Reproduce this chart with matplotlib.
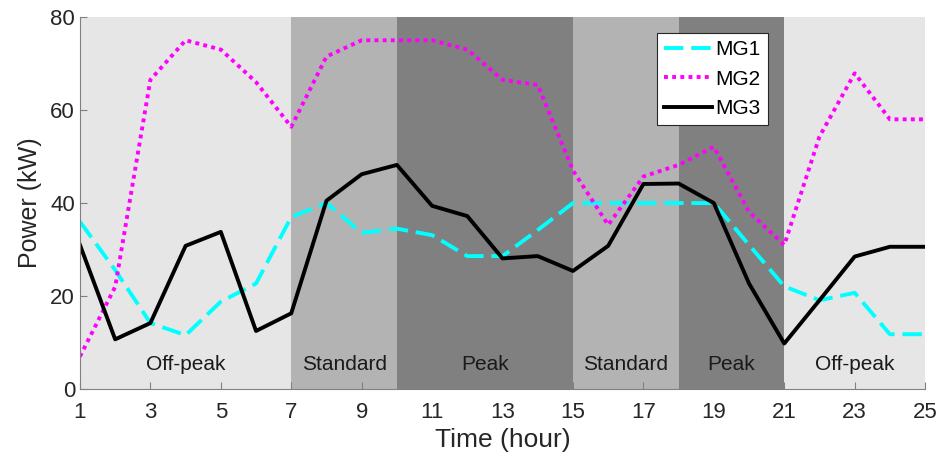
import matplotlib
matplotlib.use("Agg")
import matplotlib.pyplot as plt

plt.rcParams['font.family'] = ['Liberation Sans', 'DejaVu Sans']

hours = list(range(1, 26))
mg1 = [36, 25.6, 14.2, 11.6, 18.8, 22.7, 37, 40, 33.6, 34.5, 33.1, 28.6, 28.6,
       34.2, 40, 40, 40, 40, 40, 31, 22.1, 19.1, 20.7, 11.8, 11.8]
mg2 = [7, 22, 66.5, 75, 73, 66, 56.4, 71.5, 75, 75, 75, 73, 66.5,
       65.4, 47, 35.3, 45.7, 48.2, 52.1, 38.1, 31, 54.3, 67.9, 58, 58]
mg3 = [31, 10.7, 14.2, 30.8, 33.8, 12.5, 16.3, 40.5, 46.2, 48.2, 39.4, 37.2, 28.1,
       28.6, 25.4, 30.8, 44.1, 44.2, 40, 22.7, 9.8, 19.1, 28.5, 30.6, 30.6]

# tariff periods: (start, end, label, label x)
periods = [(1, 7, "Off-peak", 4), (7, 10, "Standard", 8.5), (10, 15, "Peak", 12.5),
           (15, 18, "Standard", 16.5), (18, 21, "Peak", 19.5), (21, 25, "Off-peak", 23)]
shade = {"Off-peak": "#e6e6e6", "Standard": "#b3b3b3", "Peak": "#808080"}

fig = plt.figure(figsize=(9.44, 4.66), dpi=100)
ax = fig.add_axes([0.0847, 0.165, 0.8953, 0.7985])

for start, end, name, xc in periods:
    ax.axvspan(start, end, color=shade[name], lw=0, zorder=0)
    ax.text(xc, 5.2, name, ha="center", va="center", fontsize=15, color="#1a1a1a")

ax.plot(hours, mg1, color="#00ffff", lw=2.8, ls=(0, (5, 2)), label="MG1")
ax.plot(hours, mg2, color="#ff00ff", lw=2.8, ls=(0, (1, 1.1)), label="MG2")
ax.plot(hours, mg3, color="black", lw=2.8, label="MG3")

ax.set_xlim(1, 25)
ax.set_ylim(0, 80)
ax.set_xticks(range(1, 26, 2))
ax.set_yticks(range(0, 81, 20))
ax.tick_params(direction="in", labelsize=16, labelcolor="#262626", color="#808080", length=5)
ax.tick_params(axis="x", pad=9)
ax.spines["top"].set_visible(False)
ax.spines["right"].set_visible(False)
for s in ["left", "bottom"]:
    ax.spines[s].set_color("#808080")
ax.set_xlabel("Time (hour)", fontsize=19, color="#262626", labelpad=4)
ax.set_ylabel("Power (kW)", fontsize=18, color="#262626", labelpad=6)

leg = ax.legend(loc="upper right", bbox_to_anchor=(0.814, 0.957), borderaxespad=0,
                fontsize=15, handlelength=2.3, fancybox=False, framealpha=1,
                edgecolor="#262626", borderpad=0.35, labelspacing=0.5, handletextpad=0.15)
leg.get_frame().set_linewidth(0.8)

fig.savefig("out.png", dpi=100)
